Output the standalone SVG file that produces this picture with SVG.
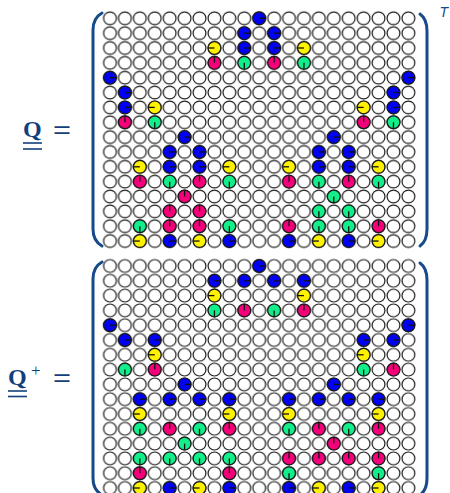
<svg xmlns="http://www.w3.org/2000/svg" xmlns:xlink="http://www.w3.org/1999/xlink" width="450" height="493" viewBox="0 0 450 493">
<style>
.o{fill:#fff;stroke:#1a1a1a;stroke-width:1.2}
.k{stroke:#111;stroke-width:1.3}
.br{fill:none;stroke:#174a8a;stroke-width:3;stroke-linecap:round}
.lbl{fill:#123f7c;font-family:"Liberation Serif",serif;font-weight:bold}
.op{fill:#123f7c;font-family:"Liberation Sans",sans-serif}
.ul{stroke:#123f7c;stroke-width:1.6}
</style>
<defs>
<pattern id="g1" x="102.54" y="10.875" width="14.92" height="14.85" patternUnits="userSpaceOnUse"><circle class="o" cx="7.46" cy="7.425" r="6.4"/></pattern>
<pattern id="g2" x="102.54" y="258.6" width="14.92" height="14.8" patternUnits="userSpaceOnUse"><circle class="o" cx="7.46" cy="7.4" r="6.4"/></pattern>
<g id="B"><circle class="o" r="6.4" style="fill:#0000f2"/><line class="k" x1="0" y1="0" x2="6.4" y2="0"/></g>
<g id="Y"><circle class="o" r="6.4" style="fill:#fff200"/><line class="k" x1="0" y1="0" x2="-6.4" y2="0"/></g>
<g id="M"><circle class="o" r="6.4" style="fill:#f5007a"/><line class="k" x1="0" y1="0" x2="0" y2="-6.4"/></g>
<g id="G"><circle class="o" r="6.4" style="fill:#12ee8a"/><line class="k" x1="0" y1="0" x2="0" y2="6.4"/></g>
</defs>

<g id="label-Q">
<text class="lbl" x="23" y="136.5" font-size="24">Q</text>
<line class="ul" x1="23" y1="143" x2="42" y2="143"/>
<line class="ul" x1="23" y1="149" x2="42" y2="149"/>
<text class="op" x="53" y="138" font-size="24" textLength="18" lengthAdjust="spacingAndGlyphs">=</text>
</g>

<g id="matrix-Q">
<rect x="102.54" y="10.875" width="313.32" height="237.6" fill="url(#g1)"/>
<path class="br" d="M102,13 Q93,18 93,30 L93,229 Q93,241 102,246"/>
<path class="br" d="M420,14 Q427,19 427,31 L427,229 Q427,241 420,246"/>
<text x="439.5" y="17" font-size="14" font-style="italic" fill="#174a8a" font-family="Liberation Sans,sans-serif">T</text>
<g transform="translate(110 18.3)">
<use href="#B" x="149.2" y="0"/>
<use href="#B" x="134.28" y="14.85"/><use href="#B" x="164.12" y="14.85"/>
<use href="#Y" x="104.44" y="29.7"/><use href="#B" x="134.28" y="29.7"/><use href="#B" x="164.12" y="29.7"/><use href="#Y" x="193.96" y="29.7"/>
<use href="#M" x="104.44" y="44.55"/><use href="#G" x="134.28" y="44.55"/><use href="#M" x="164.12" y="44.55"/><use href="#G" x="193.96" y="44.55"/>
<use href="#B" x="0" y="59.4"/><use href="#B" x="298.4" y="59.4"/>
<use href="#B" x="14.92" y="74.25"/><use href="#B" x="283.48" y="74.25"/>
<use href="#B" x="14.92" y="89.1"/><use href="#Y" x="44.76" y="89.1"/><use href="#Y" x="253.64" y="89.1"/><use href="#B" x="283.48" y="89.1"/>
<use href="#M" x="14.92" y="103.95"/><use href="#G" x="44.76" y="103.95"/><use href="#M" x="253.64" y="103.95"/><use href="#G" x="283.48" y="103.95"/>
<use href="#B" x="74.6" y="118.8"/><use href="#B" x="223.8" y="118.8"/>
<use href="#B" x="59.68" y="133.65"/><use href="#B" x="89.52" y="133.65"/><use href="#B" x="208.88" y="133.65"/><use href="#B" x="238.72" y="133.65"/>
<use href="#Y" x="29.84" y="148.5"/><use href="#B" x="59.68" y="148.5"/><use href="#B" x="89.52" y="148.5"/><use href="#Y" x="119.36" y="148.5"/><use href="#Y" x="179.04" y="148.5"/><use href="#B" x="208.88" y="148.5"/><use href="#B" x="238.72" y="148.5"/><use href="#Y" x="268.56" y="148.5"/>
<use href="#M" x="29.84" y="163.35"/><use href="#G" x="59.68" y="163.35"/><use href="#M" x="89.52" y="163.35"/><use href="#G" x="119.36" y="163.35"/><use href="#M" x="179.04" y="163.35"/><use href="#G" x="208.88" y="163.35"/><use href="#M" x="238.72" y="163.35"/><use href="#G" x="268.56" y="163.35"/>
<use href="#M" x="74.6" y="178.2"/><use href="#G" x="223.8" y="178.2"/>
<use href="#M" x="59.68" y="193.05"/><use href="#M" x="89.52" y="193.05"/><use href="#G" x="208.88" y="193.05"/><use href="#G" x="238.72" y="193.05"/>
<use href="#G" x="29.84" y="207.9"/><use href="#M" x="59.68" y="207.9"/><use href="#M" x="89.52" y="207.9"/><use href="#G" x="119.36" y="207.9"/><use href="#M" x="179.04" y="207.9"/><use href="#G" x="208.88" y="207.9"/><use href="#G" x="238.72" y="207.9"/><use href="#M" x="268.56" y="207.9"/>
<use href="#Y" x="29.84" y="222.75"/><use href="#B" x="59.68" y="222.75"/><use href="#Y" x="89.52" y="222.75"/><use href="#B" x="119.36" y="222.75"/><use href="#B" x="179.04" y="222.75"/><use href="#Y" x="208.88" y="222.75"/><use href="#B" x="238.72" y="222.75"/><use href="#Y" x="268.56" y="222.75"/>
</g>
</g>

<g id="label-Qplus">
<text class="lbl" x="8" y="385" font-size="24">Q</text>
<text class="op" x="31" y="376" font-size="17" style="font-family:'Liberation Serif',serif">+</text>
<line class="ul" x1="8" y1="391" x2="27" y2="391"/>
<line class="ul" x1="8" y1="396.5" x2="27" y2="396.5"/>
<text class="op" x="53" y="386" font-size="24" textLength="18" lengthAdjust="spacingAndGlyphs">=</text>
</g>

<g id="matrix-Qplus">
<rect x="102.54" y="258.6" width="313.32" height="236.8" fill="url(#g2)"/>
<path class="br" d="M102,262 Q93,267 93,279 L93,478 Q93,490 102,495"/>
<path class="br" d="M420,263 Q427,268 427,280 L427,478 Q427,490 420,495"/>
<g transform="translate(110 266)">
<use href="#B" x="149.2" y="0"/>
<use href="#B" x="104.44" y="14.8"/><use href="#B" x="134.28" y="14.8"/><use href="#B" x="164.12" y="14.8"/><use href="#B" x="193.96" y="14.8"/>
<use href="#Y" x="104.44" y="29.6"/><use href="#Y" x="193.96" y="29.6"/>
<use href="#G" x="104.44" y="44.4"/><use href="#M" x="134.28" y="44.4"/><use href="#G" x="164.12" y="44.4"/><use href="#M" x="193.96" y="44.4"/>
<use href="#B" x="0" y="59.2"/><use href="#B" x="298.4" y="59.2"/>
<use href="#B" x="14.92" y="74"/><use href="#B" x="44.76" y="74"/><use href="#B" x="253.64" y="74"/><use href="#B" x="283.48" y="74"/>
<use href="#Y" x="44.76" y="88.8"/><use href="#Y" x="253.64" y="88.8"/>
<use href="#G" x="14.92" y="103.6"/><use href="#M" x="44.76" y="103.6"/><use href="#G" x="253.64" y="103.6"/><use href="#M" x="283.48" y="103.6"/>
<use href="#B" x="74.6" y="118.4"/><use href="#B" x="223.8" y="118.4"/>
<use href="#B" x="29.84" y="133.2"/><use href="#B" x="59.68" y="133.2"/><use href="#B" x="89.52" y="133.2"/><use href="#B" x="119.36" y="133.2"/><use href="#B" x="179.04" y="133.2"/><use href="#B" x="208.88" y="133.2"/><use href="#B" x="238.72" y="133.2"/><use href="#B" x="268.56" y="133.2"/>
<use href="#Y" x="29.84" y="148"/><use href="#Y" x="119.36" y="148"/><use href="#Y" x="179.04" y="148"/><use href="#Y" x="268.56" y="148"/>
<use href="#G" x="29.84" y="162.8"/><use href="#M" x="59.68" y="162.8"/><use href="#G" x="89.52" y="162.8"/><use href="#M" x="119.36" y="162.8"/><use href="#G" x="179.04" y="162.8"/><use href="#M" x="208.88" y="162.8"/><use href="#G" x="238.72" y="162.8"/><use href="#M" x="268.56" y="162.8"/>
<use href="#G" x="74.6" y="177.6"/><use href="#M" x="223.8" y="177.6"/>
<use href="#G" x="29.84" y="192.4"/><use href="#G" x="59.68" y="192.4"/><use href="#G" x="89.52" y="192.4"/><use href="#G" x="119.36" y="192.4"/><use href="#M" x="179.04" y="192.4"/><use href="#M" x="208.88" y="192.4"/><use href="#M" x="238.72" y="192.4"/><use href="#M" x="268.56" y="192.4"/>
<use href="#M" x="29.84" y="207.2"/><use href="#M" x="119.36" y="207.2"/><use href="#G" x="179.04" y="207.2"/><use href="#G" x="268.56" y="207.2"/>
<use href="#Y" x="29.84" y="222"/><use href="#B" x="59.68" y="222"/><use href="#Y" x="89.52" y="222"/><use href="#B" x="119.36" y="222"/><use href="#B" x="179.04" y="222"/><use href="#Y" x="208.88" y="222"/><use href="#B" x="238.72" y="222"/><use href="#Y" x="268.56" y="222"/>
</g>
</g>
</svg>
